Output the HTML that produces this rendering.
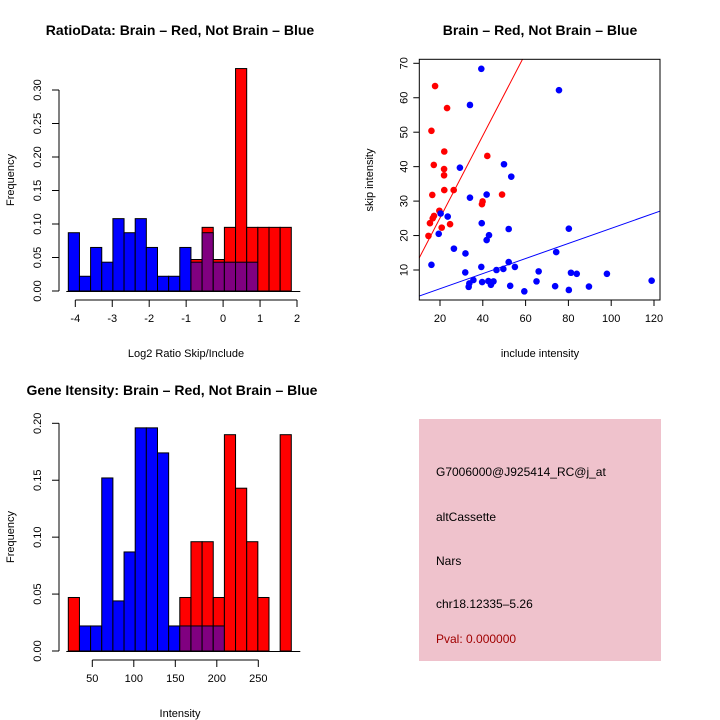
<!DOCTYPE html>
<html><head><meta charset="utf-8"><style>
html,body{margin:0;padding:0;background:#fff}
svg{display:block;font-family:"Liberation Sans",sans-serif}
</style></head><body>
<svg id="c" width="720" height="720" viewBox="0 0 720 720">
<text x="180" y="35" text-anchor="middle" font-size="14" font-weight="bold">RatioData: Brain – Red, Not Brain – Blue</text>
<text x="540" y="35" text-anchor="middle" font-size="14" font-weight="bold">Brain – Red, Not Brain – Blue</text>
<text x="172" y="395" text-anchor="middle" font-size="14" font-weight="bold">Gene Itensity: Brain – Red, Not Brain – Blue</text>
<text x="186" y="357" text-anchor="middle" font-size="11">Log2 Ratio Skip/Include</text>
<text x="14" y="180" text-anchor="middle" font-size="11" transform="rotate(-90 14 180)">Frequency</text>
<text x="540" y="357" text-anchor="middle" font-size="11">include intensity</text>
<text x="373" y="180" text-anchor="middle" font-size="11" transform="rotate(-90 373 180)">skip intensity</text>
<text x="180" y="717" text-anchor="middle" font-size="11">Intensity</text>
<text x="14" y="537" text-anchor="middle" font-size="11" transform="rotate(-90 14 537)">Frequency</text>
<g>
<rect x="419" y="419" width="242" height="242" fill="#efc2cc"/>
<text x="436" y="476" font-size="12">G7006000@J925414_RC@j_at</text>
<text x="436" y="521" font-size="12">altCassette</text>
<text x="436" y="565" font-size="12">Nars</text>
<text x="436" y="608" font-size="12">chr18.12335–5.26</text>
<text x="436" y="643" font-size="12" fill="#a00000">Pval: 0.000000</text>
</g>
<g id="g1"></g><g id="g2"></g><g id="g3"></g>
</svg>
<script>
// Ratio histogram data
const ratioRed=[0,0,0,0,0,0,0,0,0,0,0,0.047,0.095,0.047,0.095,0.332,0.095,0.095,0.095,0.095];
const ratioBlue=[0.087,0.022,0.065,0.043,0.108,0.087,0.108,0.065,0.022,0.022,0.065,0.043,0.087,0.043,0.043,0.043,0.043,0,0,0];
const ratioXTicks=[-4,-3,-2,-1,0,1,2];
const ratioYTicks=[0,0.05,0.10,0.15,0.20,0.25,0.30];
// Intensity histogram data
const intRed=[0.047,0,0,0,0,0,0,0,0,0,0.047,0.096,0.096,0.047,0.19,0.143,0.096,0.047,0,0.19];
const intBlue=[0,0.022,0.022,0.152,0.044,0.087,0.196,0.196,0.174,0.022,0.022,0.022,0.022,0.022,0,0,0,0,0,0];
const intXTicks=[50,100,150,200,250];
const intYTicks=[0,0.05,0.10,0.15,0.20];
// Scatter data
const redX=[17.7,16.0,23.3,22.0,17.1,21.9,21.9,42.1,22.0,26.4,16.4,49.0,39.9,39.6,19.7,17.2,16.6,15.3,24.7,20.8,14.6];
const redY=[63.4,50.4,57.0,44.4,40.5,39.3,37.5,43.1,33.2,33.2,31.8,31.9,29.9,29.1,27.2,25.7,25.0,23.6,23.3,22.3,19.9];
const blueX=[39.3,75.6,34.0,49.9,53.3,29.3,34.0,41.8,20.3,23.6,39.5,52.1,80.2,19.4,42.9,41.8,26.5,31.9,74.3,16.0,52.1,39.3,55.0,31.8,46.4,49.6,66.1,81.2,83.9,98.0,118.9,35.6,33.7,33.4,39.7,42.6,45.0,43.8,65.1,52.8,59.4,73.8,80.2,89.6];
const blueY=[68.4,62.2,57.9,40.7,37.1,39.7,31.0,31.9,26.4,25.5,23.6,21.9,22.0,20.5,20.1,18.7,16.2,14.8,15.2,11.5,12.3,10.9,10.9,9.3,10.0,10.3,9.6,9.2,8.9,8.9,6.9,7.1,6.1,5.1,6.5,6.8,6.7,5.7,6.7,5.4,3.8,5.3,4.2,5.2];
const redLine=[1.2,1.195];
const blueLine=[0.19,0.219];
const sxTicks=[20,40,60,80,100,120];
const syTicks=[10,20,30,40,50,60,70];

const NS="http://www.w3.org/2000/svg";
function mk(parent,tag,attrs){const e=document.createElementNS(NS,tag);for(const k in attrs)e.setAttribute(k,attrs[k]);parent.appendChild(e);return e;}

function hist(g,red,blue,x0,bw,y0,yScale,xTicks,xMap,yTicks,axisY,prefix){
  for(let i=0;i<red.length;i++){
    const x=x0+i*bw;
    if(red[i]>0){const r=mk(g,'rect',{x:x,y:y0-red[i]*yScale,width:bw,height:red[i]*yScale,fill:'#ff0000',stroke:'#000','stroke-width':1});
      
      }
    if(blue[i]>0){const col=red[i]>0?'#800080':'#0000ff';
      const b=mk(g,'rect',{x:x,y:y0-blue[i]*yScale,width:bw,height:blue[i]*yScale,fill:col,stroke:'#000','stroke-width':1});
      
      }
  }
  mk(g,'line',{x1:x0-2,x2:x0+red.length*bw+9,y1:y0+0.5,y2:y0+0.5,stroke:'#000'});
  const xa=mk(g,'g',{});
  
  
  mk(xa,'line',{x1:xMap(xTicks[0]),x2:xMap(xTicks[xTicks.length-1]),y1:axisY,y2:axisY,stroke:'#000'});
  xTicks.forEach(t=>{const x=xMap(t);mk(xa,'line',{x1:x,x2:x,y1:axisY,y2:axisY+7,stroke:'#000'});
    const tx=mk(xa,'text',{x:x,y:axisY+22,'text-anchor':'middle','font-size':11});tx.textContent=t;});
  const ya=mk(g,'g',{});
  
  
  const yt=v=>y0-v*yScale;
  mk(ya,'line',{x1:59,x2:59,y1:yt(yTicks[0]),y2:yt(yTicks[yTicks.length-1]),stroke:'#000'});
  yTicks.forEach(t=>{const y=yt(t);mk(ya,'line',{x1:52,x2:59,y1:y,y2:y,stroke:'#000'});
    const tx=mk(ya,'text',{x:41,y:y,'text-anchor':'middle','font-size':11,transform:`rotate(-90 41 ${y})`});tx.textContent=t.toFixed(2);});
}
hist(document.getElementById('g1'),ratioRed,ratioBlue,68.3,11.15,291,670,ratioXTicks,v=>75.3+(v+4)*36.95,ratioYTicks,300,'ratio');
hist(document.getElementById('g2'),intRed,intBlue,68.3,11.15,651,1138.5,intXTicks,v=>92.3+(v-50)*0.83,intYTicks,660,'intensity');

// scatter
const g3=document.getElementById('g3');
const L=419.3,R=660,T=59.3,B=300;
const sx=v=>440+(v-20)*2.14, sy=v=>270-(v-10)*3.445;
const clip=mk(g3,'clipPath',{id:'sc'});mk(clip,'rect',{x:L,y:T,width:R-L,height:B-T});
const lg=mk(g3,'g',{'clip-path':'url(#sc)'});
[[redLine,'#ff0000','red-fit-line'],[blueLine,'#0000ff','blue-fit-line']].forEach(([c,col,n])=>{
  const l=mk(lg,'line',{x1:sx(0),y1:sy(c[0]),x2:sx(130),y2:sy(c[0]+c[1]*130),stroke:col,'stroke-width':1});
  
  
});
redX.forEach((v,i)=>{const p=mk(g3,'circle',{cx:sx(v),cy:sy(redY[i]),r:3.3,fill:'#ff0000'});
  
  });
blueX.forEach((v,i)=>{const p=mk(g3,'circle',{cx:sx(v),cy:sy(blueY[i]),r:3.3,fill:'#0000ff'});
  
  });
mk(g3,'rect',{x:L,y:T,width:R-L,height:B-T,fill:'none',stroke:'#000'});
const sxa=mk(g3,'g',{});


sxTicks.forEach(t=>{const x=sx(t);mk(sxa,'line',{x1:x,x2:x,y1:B,y2:B+6,stroke:'#000'});
  const tx=mk(sxa,'text',{x:x,y:B+22,'text-anchor':'middle','font-size':11});tx.textContent=t;});
const sya=mk(g3,'g',{});


syTicks.forEach(t=>{const y=sy(t);mk(sya,'line',{x1:L-6,x2:L,y1:y,y2:y,stroke:'#000'});
  const tx=mk(sya,'text',{x:L-12,y:y,'text-anchor':'middle','font-size':11,transform:`rotate(-90 ${L-12} ${y})`});tx.textContent=t;});
</script>
</body></html>
